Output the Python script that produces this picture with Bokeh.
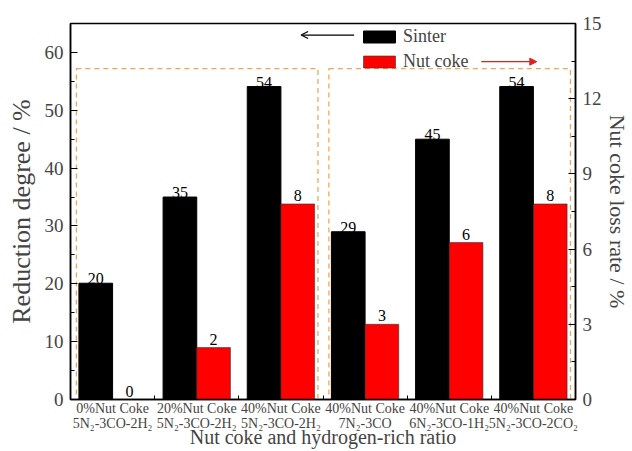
from bokeh.plotting import figure
from bokeh.models import (Range1d, LinearAxis, FixedTicker, ColumnDataSource, Legend, LegendItem,
                          Arrow, OpenHead, NormalHead)
from bokeh.embed import file_html
from bokeh.resources import INLINE

categories = ["0%Nut Coke\n5N\u2082-3CO-2H\u2082", "20%Nut Coke\n5N\u2082-3CO-2H\u2082",
              "40%Nut Coke\n5N\u2082-3CO-2H\u2082", "40%Nut Coke\n7N\u2082-3CO",
              "40%Nut Coke\n6N\u2082-3CO-1H\u2082", "40%Nut Coke\n5N\u2082-3CO-2CO\u2082"]
sinter = [20.1, 35.0, 54.1, 29.0, 45.0, 54.1]
nut_coke = [0.0, 2.07, 7.8, 3.0, 6.26, 7.8]
sinter_labels = ["20", "35", "54", "29", "45", "54"]
nut_coke_labels = ["0", "2", "8", "3", "6", "8"]
# dashed group boxes: (first category index, last category index)
groups = [(0, 2), (3, 5)]

FONT = "Liberation Serif"
xs = [i + 1 for i in range(len(categories))]
W = 0.4

src = ColumnDataSource(dict(
    x=xs,
    xs=[x - W / 2 for x in xs],
    xn=[x + W / 2 for x in xs],
    sinter=sinter, nut=nut_coke,
    sl=sinter_labels, nl=nut_coke_labels,
))

p = figure(frame_width=505, frame_height=376, output_backend="svg", toolbar_location=None,
           x_range=Range1d(0.5, 6.5), y_range=Range1d(0, 65),
           min_border_left=70, min_border_right=40, min_border_top=23, min_border_bottom=40)
p.extra_y_ranges = {"right": Range1d(0, 15)}
p.grid.visible = False
p.outline_line_color = "black"
p.outline_line_width = 1.5

# group boxes
for a, b in groups:
    p.quad(left=[xs[a] - 0.43], right=[xs[b] + 0.44], bottom=[0], top=[57.2],
           fill_color=None, line_color="#F2A65A", line_dash="5 4", line_width=1.3)

rs = p.vbar(x="xs", top="sinter", width=W, source=src, fill_color="black", line_color="black")
rn = p.vbar(x="xn", top="nut", width=W, source=src, fill_color="#FF0000", line_color="#333333",
            line_width=0.6, y_range_name="right")

p.text(x="xs", y="sinter", text="sl", source=src, text_align="center", text_baseline="bottom",
       text_font=FONT, text_font_size="16px", text_color="black", y_offset=1)
p.text(x="xn", y="nut", text="nl", source=src, text_align="center", text_baseline="bottom",
       text_font=FONT, text_font_size="16px", text_color="black", y_offset=-3, y_range_name="right")

# axes
xa = p.xaxis[0]
xa.ticker = FixedTicker(ticks=xs, minor_ticks=[x + 0.5 for x in xs[:-1]])
xa.major_label_overrides = {x: c for x, c in zip(xs, categories)}
xa.major_tick_line_color = None
xa.major_tick_in = 0
xa.major_tick_out = 0
xa.minor_tick_in = 4
xa.minor_tick_out = 0
xa.axis_label = "Nut coke and hydrogen-rich ratio"
xa.axis_label_text_font = FONT
xa.axis_label_text_font_style = "normal"
xa.axis_label_text_font_size = "20px"
xa.axis_label_text_line_height = 1.0
xa.axis_label_standoff = -8
xa.major_label_text_font = FONT
xa.major_label_text_font_size = "14px"
xa.major_label_text_line_height = 1.0
xa.major_label_standoff = 1
xa.axis_line_width = 1.5

ya = p.yaxis[0]
ya.ticker = FixedTicker(ticks=[0, 10, 20, 30, 40, 50, 60], minor_ticks=[5, 15, 25, 35, 45, 55])
ya.axis_label = "Reduction degree / %"
ya.axis_label_text_font = FONT
ya.axis_label_text_font_style = "normal"
ya.axis_label_text_font_size = "26px"
ya.axis_label_standoff = 6
ya.major_label_text_font = FONT
ya.major_label_text_font_size = "19px"
ya.major_tick_in = 7
ya.major_tick_out = 0
ya.minor_tick_in = 4
ya.minor_tick_out = 0
ya.major_label_standoff = 7
ya.axis_line_width = 1.5

ra = LinearAxis(y_range_name="right",
                ticker=FixedTicker(ticks=[0, 3, 6, 9, 12, 15], minor_ticks=[1.5, 4.5, 7.5, 10.5, 13.5]))
ra.axis_label = "Nut coke loss rate / %"
ra.axis_label_text_font = FONT
ra.axis_label_text_font_style = "normal"
ra.axis_label_text_font_size = "22px"
ra.axis_label_standoff = 0
ra.major_label_text_font = FONT
ra.major_label_text_font_size = "19px"
ra.major_tick_in = 7
ra.major_tick_out = 0
ra.minor_tick_in = 4
ra.minor_tick_out = 0
ra.major_label_standoff = 7
ra.axis_line_width = 1.5
p.add_layout(ra, "right")

legend = Legend(items=[LegendItem(label="Sinter", renderers=[rs]),
                       LegendItem(label="Nut coke", renderers=[rn])],
                location=(289, 327), orientation="vertical")
legend.border_line_color = None
legend.background_fill_alpha = 0
legend.glyph_width = 40
legend.glyph_height = 15
legend.label_height = 20
legend.spacing = 4
legend.padding = 0
legend.margin = 0
legend.label_standoff = 4
legend.label_text_font = FONT
legend.label_text_font_size = "18px"
p.add_layout(legend, "center")

p.add_layout(Arrow(end=OpenHead(size=7, line_color="black", line_width=1.2),
                   x_start=3.87, y_start=63.0, x_end=3.24, y_end=63.0,
                   line_color="black", line_width=1.2))
p.add_layout(Arrow(end=NormalHead(size=7, fill_color="#E02020", line_color="#E02020"),
                   x_start=5.38, y_start=58.4, x_end=6.04, y_end=58.4,
                   line_color="#E02020", line_width=1.2))

open("out.html", "w").write(file_html(p, INLINE))
